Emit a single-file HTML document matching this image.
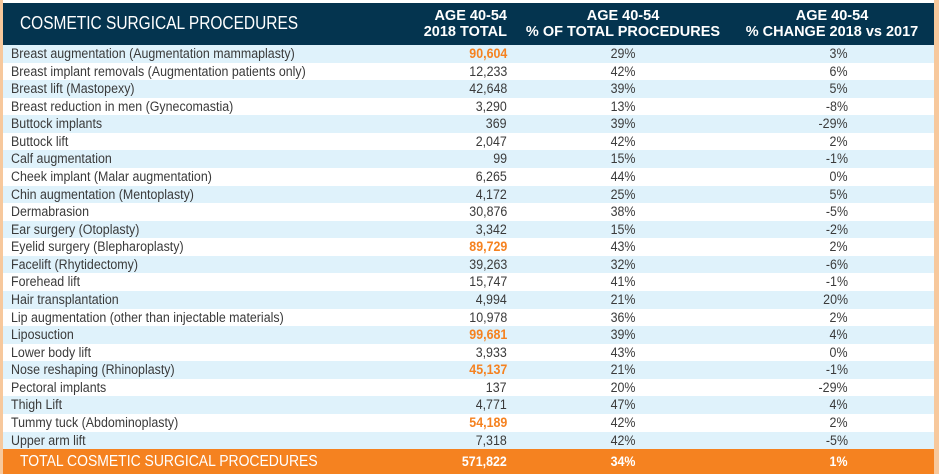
<!DOCTYPE html>
<html><head><meta charset="utf-8"><style>
*{margin:0;padding:0;box-sizing:border-box}
body{width:939px;height:474px;background:#fff;position:relative;overflow:hidden;font-family:"Liberation Sans",sans-serif;color:#3a3a3a}
.lb{position:absolute;left:0;top:0;width:3px;height:474px;background:#f7c89c}
.rb{position:absolute;right:0;top:0;width:5px;height:474px;background:#f7c89c}
.hd{position:absolute;left:3px;top:3px;width:931px;height:42px;background:#04344f;color:#fff}
.hd .t{position:absolute;left:17px;top:10px;font-size:18px;transform:scaleX(0.86);transform-origin:left;white-space:nowrap}
.hd .c{position:absolute;top:5px;font-size:14.5px;line-height:16px;font-weight:bold;text-align:center;white-space:nowrap}
.row{position:absolute;left:3px;width:931px;height:17.57px;font-size:13.5px;line-height:17.57px}
.row.b{background:#dff2fb}
.row span{position:absolute;white-space:nowrap}
.n{left:8px;transform:scaleX(0.92);transform-origin:left}
.v{right:427px;text-align:right;transform:scaleX(0.92);transform-origin:right}
.p{left:580px;width:80px;text-align:center;transform:scaleX(0.92)}
.g{right:86px;text-align:right;transform:scaleX(0.92);transform-origin:right}
.o{color:#f58220;font-weight:bold}
.tot{position:absolute;left:3px;top:449px;width:931px;height:25px;background:#f58220;color:#fff;font-weight:bold;font-size:13.5px;line-height:25px}
.tot span{position:absolute;white-space:nowrap}
.tot .n{left:17px;font-weight:normal;font-size:15.5px;transform:scaleX(0.9)}
</style></head><body>
<div class="lb"></div><div class="rb"></div>
<div class="hd">
<div class="t">COSMETIC SURGICAL PROCEDURES</div>
<div class="c" style="right:427px;text-align:right">AGE 40-54<br>2018 TOTAL</div>
<div class="c" style="left:520px;width:200px">AGE 40-54<br>% OF TOTAL PROCEDURES</div>
<div class="c" style="left:729px;width:200px">AGE 40-54<br>% CHANGE 2018 vs 2017</div>
</div>
<div class="row b" style="top:45px"><span class="n">Breast augmentation (Augmentation mammaplasty)</span><span class="v o">90,604</span><span class="p">29%</span><span class="g">3%</span></div>
<div class="row" style="top:62.57px"><span class="n">Breast implant removals (Augmentation patients only)</span><span class="v">12,233</span><span class="p">42%</span><span class="g">6%</span></div>
<div class="row b" style="top:80.14px"><span class="n">Breast lift (Mastopexy)</span><span class="v">42,648</span><span class="p">39%</span><span class="g">5%</span></div>
<div class="row" style="top:97.71px"><span class="n">Breast reduction in men (Gynecomastia)</span><span class="v">3,290</span><span class="p">13%</span><span class="g">-8%</span></div>
<div class="row b" style="top:115.28px"><span class="n">Buttock implants</span><span class="v">369</span><span class="p">39%</span><span class="g">-29%</span></div>
<div class="row" style="top:132.85px"><span class="n">Buttock lift</span><span class="v">2,047</span><span class="p">42%</span><span class="g">2%</span></div>
<div class="row b" style="top:150.42px"><span class="n">Calf augmentation</span><span class="v">99</span><span class="p">15%</span><span class="g">-1%</span></div>
<div class="row" style="top:167.99px"><span class="n">Cheek implant (Malar augmentation)</span><span class="v">6,265</span><span class="p">44%</span><span class="g">0%</span></div>
<div class="row b" style="top:185.56px"><span class="n">Chin augmentation (Mentoplasty)</span><span class="v">4,172</span><span class="p">25%</span><span class="g">5%</span></div>
<div class="row" style="top:203.13px"><span class="n">Dermabrasion</span><span class="v">30,876</span><span class="p">38%</span><span class="g">-5%</span></div>
<div class="row b" style="top:220.7px"><span class="n">Ear surgery (Otoplasty)</span><span class="v">3,342</span><span class="p">15%</span><span class="g">-2%</span></div>
<div class="row" style="top:238.27px"><span class="n">Eyelid surgery (Blepharoplasty)</span><span class="v o">89,729</span><span class="p">43%</span><span class="g">2%</span></div>
<div class="row b" style="top:255.84px"><span class="n">Facelift (Rhytidectomy)</span><span class="v">39,263</span><span class="p">32%</span><span class="g">-6%</span></div>
<div class="row" style="top:273.41px"><span class="n">Forehead lift</span><span class="v">15,747</span><span class="p">41%</span><span class="g">-1%</span></div>
<div class="row b" style="top:290.98px"><span class="n">Hair transplantation</span><span class="v">4,994</span><span class="p">21%</span><span class="g">20%</span></div>
<div class="row" style="top:308.55px"><span class="n">Lip augmentation (other than injectable materials)</span><span class="v">10,978</span><span class="p">36%</span><span class="g">2%</span></div>
<div class="row b" style="top:326.12px"><span class="n">Liposuction</span><span class="v o">99,681</span><span class="p">39%</span><span class="g">4%</span></div>
<div class="row" style="top:343.69px"><span class="n">Lower body lift</span><span class="v">3,933</span><span class="p">43%</span><span class="g">0%</span></div>
<div class="row b" style="top:361.26px"><span class="n">Nose reshaping (Rhinoplasty)</span><span class="v o">45,137</span><span class="p">21%</span><span class="g">-1%</span></div>
<div class="row" style="top:378.83px"><span class="n">Pectoral implants</span><span class="v">137</span><span class="p">20%</span><span class="g">-29%</span></div>
<div class="row b" style="top:396.4px"><span class="n">Thigh Lift</span><span class="v">4,771</span><span class="p">47%</span><span class="g">4%</span></div>
<div class="row" style="top:413.97px"><span class="n">Tummy tuck (Abdominoplasty)</span><span class="v o">54,189</span><span class="p">42%</span><span class="g">2%</span></div>
<div class="row b" style="top:431.54px"><span class="n">Upper arm lift</span><span class="v">7,318</span><span class="p">42%</span><span class="g">-5%</span></div>
<div class="tot"><span class="n">TOTAL COSMETIC SURGICAL PROCEDURES</span><span class="v">571,822</span><span class="p">34%</span><span class="g">1%</span></div>
</body></html>
